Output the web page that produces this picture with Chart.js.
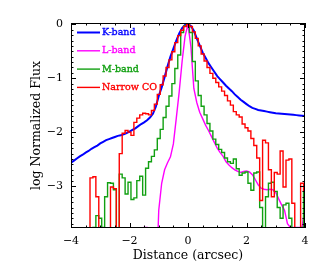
<!DOCTYPE html>
<html lang="en">
<head>
<meta charset="UTF-8">
<script src="https://cdn.jsdelivr.net/npm/chart.js"></script>
<title>Flux profiles</title>
<style>
    html, body { margin: 0; padding: 0; background: #fff; }
</style>
</head>
<body>
<canvas id="fluxChart" width="327" height="273"></canvas>
<script>
// distance along the slit, arcsec
const distance = [
    -4.0, -3.9, -3.8, -3.7, -3.6, -3.5, -3.4, -3.3, -3.2, -3.1,
    -3.0, -2.9, -2.8, -2.7, -2.6, -2.5, -2.4, -2.3, -2.2, -2.1,
    -2.0, -1.9, -1.8, -1.7, -1.6, -1.5, -1.4, -1.3, -1.2, -1.1,
    -1.0, -0.9, -0.8, -0.7, -0.6, -0.5, -0.4, -0.3, -0.2, -0.1,
    0.0, 0.1, 0.2, 0.3, 0.4, 0.5, 0.6, 0.7, 0.8, 0.9,
    1.0, 1.1, 1.2, 1.3, 1.4, 1.5, 1.6, 1.7, 1.8, 1.9,
    2.0, 2.1, 2.2, 2.3, 2.4, 2.5, 2.6, 2.7, 2.8, 2.9,
    3.0, 3.1, 3.2, 3.3, 3.4, 3.5, 3.6, 3.7, 3.8, 3.9,
    4.0
];

// log normalized flux (values far below the plot floor are -5)
const kBand = [
    -2.57, -2.53, -2.49, -2.45, -2.42, -2.38, -2.35, -2.31, -2.28, -2.25,
    -2.21, -2.18, -2.15, -2.13, -2.11, -2.09, -2.07, -2.06, -2.04, -2.02,
    -1.99, -1.96, -1.93, -1.89, -1.85, -1.82, -1.78, -1.73, -1.66, -1.53,
    -1.33, -1.17, -0.98, -0.78, -0.60, -0.45, -0.30, -0.17, -0.07, -0.01,
    0.00, -0.03, -0.12, -0.26, -0.39, -0.52, -0.62, -0.72, -0.80, -0.88,
    -0.96, -1.02, -1.08, -1.14, -1.19, -1.24, -1.30, -1.35, -1.40, -1.44,
    -1.48, -1.52, -1.55, -1.57, -1.59, -1.60, -1.61, -1.62, -1.63, -1.64,
    -1.65, -1.655, -1.66, -1.665, -1.67, -1.675, -1.68, -1.685, -1.69, -1.695,
    -1.70
];

const lBand = [
    -5, -5, -5, -5, -5, -5, -5, -5, -5, -5,
    -5, -5, -5, -5, -5, -5, -5, -5, -5, -5,
    -5, -5, -5, -5, -5, -3.77, -3.77, -5, -5, -5,
    -3.45, -2.95, -2.70, -2.57, -2.46, -2.22, -1.74, -1.25, -0.68, -0.22,
    0.00, -0.42, -1.19, -1.45, -1.63, -1.75, -1.87, -1.97, -2.08, -2.19,
    -2.30, -2.38, -2.45, -2.55, -2.61, -2.66, -2.70, -2.73, -2.75, -2.73,
    -2.72, -2.74, -2.79, -2.88, -2.98, -3.04, -3.06, -3.07, -3.06, -3.07,
    -3.12, -3.24, -3.35, -3.45, -3.70, -3.77, -3.77, -3.77, -3.77, -3.77,
    -3.40
];

const mBand = [
    -5, -5, -5, -5, -5, -5, -5, -5, -3.77, -3.55,
    -3.60, -3.77, -3.20, -2.94, -2.95, -3.07, -5, -2.78, -2.85, -3.15,
    -2.93, -3.25, -3.22, -2.90, -2.82, -3.17, -2.67, -2.55, -2.45, -2.33,
    -2.12, -1.95, -1.73, -1.52, -1.33, -1.10, -0.82, -0.57, -0.15, -0.03,
    0.00, -0.15, -0.69, -1.05, -1.32, -1.52, -1.68, -1.84, -1.98, -2.13,
    -2.23, -2.32, -2.38, -2.48, -2.55, -2.58, -2.50, -2.68, -2.80, -2.76,
    -2.74, -2.95, -3.08, -2.76, -2.74, -3.40, -5, -3.20, -2.95, -2.93,
    -3.10, -3.40, -3.60, -3.35, -3.32, -3.60, -5, -5, -5, -3.77,
    -3.10
];

const narrowCO = [
    -5, -5, -5, -5, -5, -5, -5, -2.85, -2.83, -3.20,
    -5, -5, -5, -5, -3.02, -3.05, -5, -2.40, -2.02, -1.97,
    -2.00, -2.06, -1.82, -1.74, -1.68, -1.65, -1.66, -1.68, -1.60, -1.48,
    -1.30, -1.12, -0.96, -0.80, -0.66, -0.51, -0.34, -0.21, -0.11, -0.04,
    0.00, -0.04, -0.14, -0.26, -0.40, -0.55, -0.68, -0.80, -0.91, -1.00,
    -1.08, -1.16, -1.24, -1.32, -1.42, -1.50, -1.62, -1.68, -1.72, -1.85,
    -1.92, -1.98, -2.12, -2.25, -2.48, -3.27, -2.15, -2.20, -2.70, -3.20,
    -2.75, -2.78, -2.35, -3.02, -2.52, -2.50, -3.32, -5, -5, -2.95,
    -3.10
];

const seriesNames = ['K-band', 'L-band', 'M-band', 'Narrow CO'];
const seriesColors = ['#0000ff', '#ff00ff', '#11a011', '#ff0000'];
const xTicks = [-4, -2, 0, 2, 4];
const yTicks = [0, -1, -2, -3];

function toPoints(ys) {
    return distance.map((x, i) => ({ x: x, y: ys[i] }));
}

function fmt(v) {
    return v < 0 ? '\u2212' + Math.abs(v) : String(v);
}

// frame, inward ticks on all four sides, and the legend inside the plot
const frameAndLegend = {
    id: 'frameAndLegend',
    afterDatasetsDraw(chart) {
        const ctx = chart.ctx;
        const a = chart.chartArea;
        const xs = chart.scales.x;
        const ys = chart.scales.y;
        ctx.save();
        ctx.strokeStyle = '#000';
        ctx.lineWidth = 1;
        ctx.strokeRect(a.left + 0.5, a.top + 0.5, a.right - a.left - 1, a.bottom - a.top - 1);
        ctx.beginPath();
        for (let i = -8; i <= 8; i++) {
            const px = Math.round(xs.getPixelForValue(i / 2)) + 0.5;
            const len = i % 4 === 0 ? 5 : 2.5;
            ctx.moveTo(px, a.bottom);
            ctx.lineTo(px, a.bottom - len);
            ctx.moveTo(px, a.top);
            ctx.lineTo(px, a.top + len);
        }
        for (let i = -37; i <= 0; i++) {
            const py = Math.round(ys.getPixelForValue(i / 10)) + 0.5;
            const len = i % 10 === 0 ? 5 : 2.5;
            ctx.moveTo(a.left, py);
            ctx.lineTo(a.left + len, py);
            ctx.moveTo(a.right, py);
            ctx.lineTo(a.right - len, py);
        }
        ctx.stroke();

        ctx.font = '9.5px "DejaVu Serif"';
        ctx.textBaseline = 'middle';
        chart.data.datasets.forEach((ds, i) => {
            const y = a.top + 9.5 + i * 18.3;
            ctx.strokeStyle = ds.borderColor;
            ctx.lineWidth = ds.borderWidth;
            ctx.beginPath();
            ctx.moveTo(a.left + 6, y);
            ctx.lineTo(a.left + 29, y);
            ctx.stroke();
            ctx.fillStyle = ds.borderColor;
            ctx.lineWidth = 0.35;
            ctx.fillText(ds.label, a.left + 31, y);
            ctx.strokeText(ds.label, a.left + 31, y);
        });
        ctx.restore();
    }
};

Chart.defaults.font.family = '"DejaVu Serif"';
Chart.defaults.color = '#000';

const series = [kBand, lBand, mBand, narrowCO];
const datasets = series.map((ys, i) => ({
    label: seriesNames[i],
    data: toPoints(ys),
    borderColor: seriesColors[i],
    borderWidth: i === 0 ? 2 : 1.4,
    pointRadius: 0,
    fill: false,
    stepped: (i === 2 || i === 3) ? 'middle' : false,
    clip: 0,
    order: 4 - i
}));

new Chart(document.getElementById('fluxChart'), {
    type: 'line',
    data: { datasets: datasets },
    options: {
        responsive: false,
        animation: false,
        layout: { padding: { top: 23, right: 22, left: 0, bottom: 0 } },
        plugins: {
            legend: { display: false },
            tooltip: { enabled: false }
        },
        scales: {
            x: {
                type: 'linear',
                min: -4,
                max: 4,
                grid: { display: false, drawTicks: false, tickLength: 0 },
                border: { display: false },
                afterBuildTicks: s => { s.ticks = xTicks.map(v => ({ value: v })); },
                afterFit: s => { s.height = 45; },
                ticks: {
                    padding: 7,
                    autoSkip: false,
                    maxRotation: 0,
                    font: { size: 11 },
                    callback: v => fmt(v)
                },
                title: {
                    display: true,
                    text: 'Distance (arcsec)',
                    font: { size: 12.5 },
                    padding: { top: 0, bottom: 9.5 }
                }
            },
            y: {
                type: 'linear',
                min: -3.78,
                max: 0.025,
                grid: { display: false, drawTicks: false, tickLength: 0 },
                border: { display: false },
                afterBuildTicks: s => { s.ticks = yTicks.map(v => ({ value: v })); },
                afterFit: s => { s.width = 71; },
                ticks: {
                    padding: 8,
                    autoSkip: false,
                    font: { size: 11 },
                    callback: v => fmt(v)
                },
                title: {
                    display: true,
                    text: 'log Normalized Flux',
                    font: { size: 12.5 },
                    padding: { top: 29, bottom: 0 }
                }
            }
        }
    },
    plugins: [frameAndLegend]
});
</script>
</body>
</html>
